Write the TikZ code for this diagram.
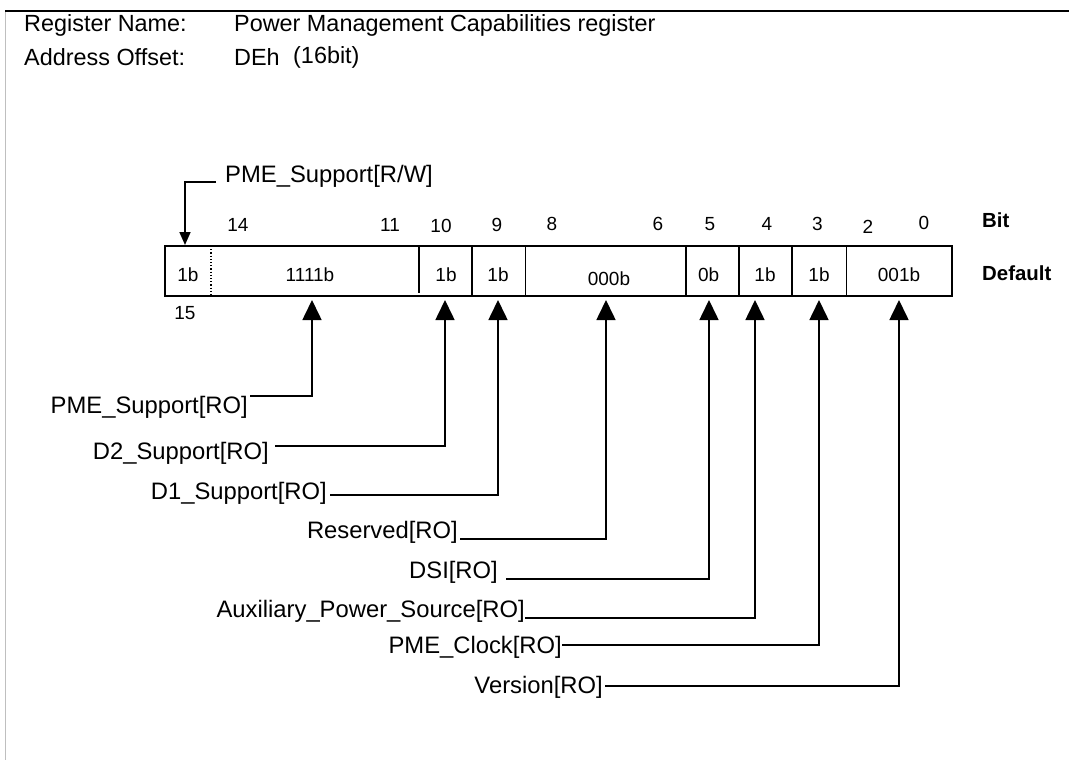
\documentclass[tikz,border=0pt]{standalone}
\usepackage{fontspec}
\setmainfont{Liberation Sans}
\usetikzlibrary{arrows.meta}
\begin{document}
\begin{tikzpicture}[x=1pt,y=-1pt,
  hdr/.style={font=\fontsize{23.4}{28}\selectfont, inner sep=0pt, anchor=west},
  lbl/.style={font=\fontsize{23.8}{28}\selectfont, inner sep=0pt, anchor=east},
  cell/.style={font=\fontsize{19}{22}\selectfont, inner sep=0pt},
  bitnum/.style={font=\fontsize{19}{22}\selectfont, inner sep=0pt},
  keylbl/.style={font=\fontsize{20.4}{24}\selectfont\bfseries, inner sep=0pt, anchor=west},
  regline/.style={line width=1.8pt},
  conn/.style={line width=1.6pt, -{Triangle[length=20pt,width=19pt]}},
  smallconn/.style={line width=1.6pt, -{Triangle[length=13pt,width=11pt]}},
]
\useasboundingbox (0,0) rectangle (1069,760);
\fill[white] (0,0) rectangle (1069,760);
% frame lines
\draw[line width=2pt] (5,11.5) -- (1069,11.5);
\draw[black!25, line width=1pt] (5.5,12.5) -- (5.5,760);

% header
\node[hdr] (rn) at (24,25) {Register Name:};
\node[hdr] (ao) at (24,57) {Address Offset:};
\node[hdr] (rnv) at (234,25) {Power Management Capabilities register};
\node[hdr] (aov) at (234,57) {DEh};
\node[hdr] (aow) at (293,57) {(16bit)};

% register box
\draw[regline] (165,246) rectangle (952,296);
\draw[line width=1.2pt, dotted] (211,246) -- (211,296);
\draw[regline] (419,246) -- (419,293);
\foreach \xx in {472,525.5,686,739,792,846.5}{
  \draw[regline] (\xx,246) -- (\xx,296);
}

% cell values
\node[cell] (c15) at (188,275) {1b};
\node[cell] (c14) at (310,275) {1111b};
\node[cell] (c10) at (446,275) {1b};
\node[cell] (c9) at (498,275) {1b};
\node[cell] (c8) at (609,279) {000b};
\node[cell] (c5) at (708.6,275) {0b};
\node[cell] (c4) at (765,275) {1b};
\node[cell] (c3) at (819,275) {1b};
\node[cell] (c2) at (899,275) {001b};

% bit numbers
\node[bitnum] (b14) at (238,225) {14};
\node[bitnum] (b11) at (390,225) {11};
\node[bitnum] (b10) at (441,226) {10};
\node[bitnum] (b9) at (497,225) {9};
\node[bitnum] (b8) at (552,224) {8};
\node[bitnum] (b6) at (658,224) {6};
\node[bitnum] (b5) at (710,224) {5};
\node[bitnum] (b4) at (767,224) {4};
\node[bitnum] (b3) at (817.5,224) {3};
\node[bitnum] (b2) at (868,227) {2};
\node[bitnum] (b0) at (924,223) {0};
\node[bitnum] (b15) at (185,313) {15};

\node[keylbl] (kbit) at (982,220) {Bit};
\node[keylbl] (kdef) at (982,273) {Default};

% R/W arrow
\node[lbl, anchor=west] (nRW) at (225,176) {PME\_Support[R/W]};
\coordinate (aRW) at (185,245);
\draw[smallconn] ([xshift=-9pt,yshift=-6pt]nRW.west) -| (aRW);

% arrow tips below box
\coordinate (aPME) at (312,300);
\coordinate (aD2) at (445,300);
\coordinate (aD1) at (498,300);
\coordinate (aRes) at (606,300);
\coordinate (aDSI) at (709,300);
\coordinate (aAux) at (755,300);
\coordinate (aClk) at (819,300);
\coordinate (aVer) at (899,300);

% labels
\node[lbl] (nPME) at (248,407) {PME\_Support[RO]};
\node[lbl] (nD2) at (269,453) {D2\_Support[RO]};
\node[lbl] (nD1) at (327,493) {D1\_Support[RO]};
\node[lbl] (nRes) at (458,532) {Reserved[RO]};
\node[lbl] (nDSI) at (498,572) {DSI[RO]};
\node[lbl] (nAux) at (525,611) {Auxiliary\_Power\_Source[RO]};
\node[lbl] (nClk) at (562,647) {PME\_Clock[RO]};
\node[lbl] (nVer) at (603,687) {Version[RO]};

% connectors
\draw[conn] ([xshift=2pt,yshift=11pt]nPME.east) -| (aPME);
\draw[conn] ([xshift=6pt,yshift=7pt]nD2.east) -| (aD2);
\draw[conn] ([xshift=3pt,yshift=-2pt]nD1.east) -| (aD1);
\draw[conn] ([xshift=2pt,yshift=-7pt]nRes.east) -| (aRes);
\draw[conn] ([xshift=8pt,yshift=-7pt]nDSI.east) -| (aDSI);
\draw[conn] ([xshift=0pt,yshift=-7pt]nAux.east) -| (aAux);
\draw[conn] ([xshift=0pt,yshift=2pt]nClk.east) -| (aClk);
\draw[conn] ([xshift=2pt,yshift=1pt]nVer.east) -| (aVer);
\end{tikzpicture}
\end{document}
